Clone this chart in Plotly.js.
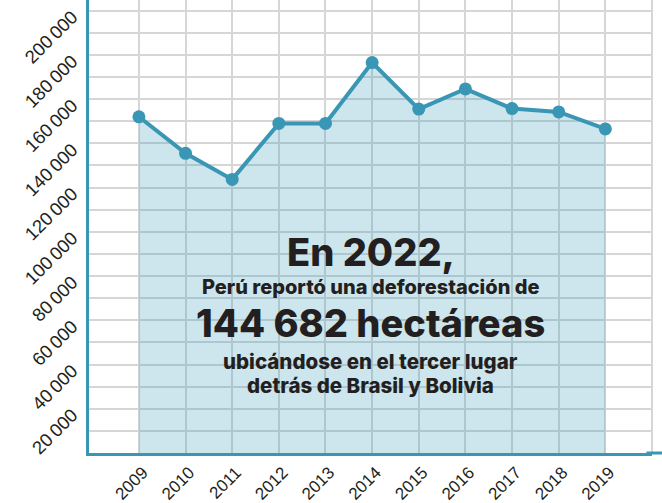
<!DOCTYPE html>
<html>
<head>
<meta charset="utf-8">
<script src="https://cdn.plot.ly/plotly-3.0.1.min.js"></script>
<style>
  html, body { margin: 0; padding: 0; background: #ffffff; }
  #chart { width: 662px; height: 503px; }
</style>
</head>
<body>
<div id="chart"></div>
<script>
// Data
const years = [2009, 2010, 2011, 2012, 2013, 2014, 2015, 2016, 2017, 2018, 2019];
const hectares = [152000, 135500, 123700, 149000, 149000, 176500, 155500, 164600, 155700, 154200, 146500];
const yTickValues = [10000, 20000, 30000, 40000, 50000, 60000, 70000, 80000, 90000, 100000,
                     110000, 120000, 130000, 140000, 150000, 160000, 170000, 180000, 190000, 200000];
const yTickLabels = ['', '20\u2009000', '', '40\u2009000', '', '60\u2009000', '', '80\u2009000', '', '100\u2009000',
                     '', '120\u2009000', '', '140\u2009000', '', '160\u2009000', '', '180\u2009000', '', '200\u2009000'];
const xTickLabels = years.map(String);

const lineColor = '#3996b5';
const textColor = '#231f20';
const gridColor = '#d6d6d6';

const trace = {
  x: years,
  y: hectares,
  type: 'scatter',
  mode: 'lines+markers',
  fill: 'tozeroy',
  fillcolor: 'rgba(57,150,181,0.25)',
  line: { color: lineColor, width: 4 },
  marker: { color: lineColor, size: 13 },
  hoverinfo: 'skip'
};

const annFont = 'Inter, "Liberation Sans", Arial, sans-serif';
function ann(text, y, size) {
  return { text: text, xref: 'paper', yref: 'paper', x: 0.5, y: y,
    xanchor: 'center', yanchor: 'middle', showarrow: false,
    font: { family: annFont, size: size, color: textColor, weight: 800 } };
}
const layout = {
  width: 662,
  height: 503,
  margin: { l: 89, r: 10, t: 0, b: 50 },
  paper_bgcolor: '#ffffff',
  plot_bgcolor: '#ffffff',
  showlegend: false,
  font: { family: '"Liberation Sans", Arial, sans-serif', color: textColor },
  xaxis: {
    range: [2007.93, 2020],
    tickmode: 'array',
    tickvals: years,
    ticktext: xTickLabels,
    tickangle: -45,
    tickfont: { size: 17, color: textColor },
    ticklabelstandoff: 0,
    ticklabelshift: 4,
    ticklabeloverflow: 'allow',
    showgrid: true,
    gridcolor: gridColor,
    gridwidth: 2,
    zeroline: false,
    showline: true,
    linecolor: lineColor,
    linewidth: 3,
    ticks: '',
    fixedrange: true
  },
  yaxis: {
    range: [0, 204800],
    tickmode: 'array',
    tickvals: yTickValues,
    ticktext: yTickLabels,
    tickangle: -45,
    tickfont: { size: 18.5, color: textColor },
    ticklabelstandoff: 10,
    ticklabelshift: 4,
    ticklabeloverflow: 'allow',
    showgrid: true,
    gridcolor: gridColor,
    gridwidth: 2,
    zeroline: false,
    showline: true,
    linecolor: lineColor,
    linewidth: 3,
    ticks: '',
    fixedrange: true
  },
  shapes: [
    { type: 'line', xref: 'paper', yref: 'paper', x0: 1, x1: 1, y0: 0, y1: 1,
      line: { color: gridColor, width: 2 }, layer: 'below' },
    { type: 'line', xref: 'paper', yref: 'paper', x0: 0.99, x1: 1.03, y0: 0, y1: 0,
      line: { color: lineColor, width: 3 } }
  ],
  annotations: [
    ann('En 2022,', 0.4437, 38),
    ann('Perú reportó una deforestación de', 0.3665, 20),
    ann('144 682 hectáreas', 0.287, 38),
    ann('ubicándose en el tercer lugar', 0.2009, 20.5),
    ann('detrás de Brasil y Bolivia', 0.150, 20.5)
  ]
};

Plotly.newPlot('chart', [trace], layout, { displayModeBar: false, staticPlot: true });
</script>
</body>
</html>
